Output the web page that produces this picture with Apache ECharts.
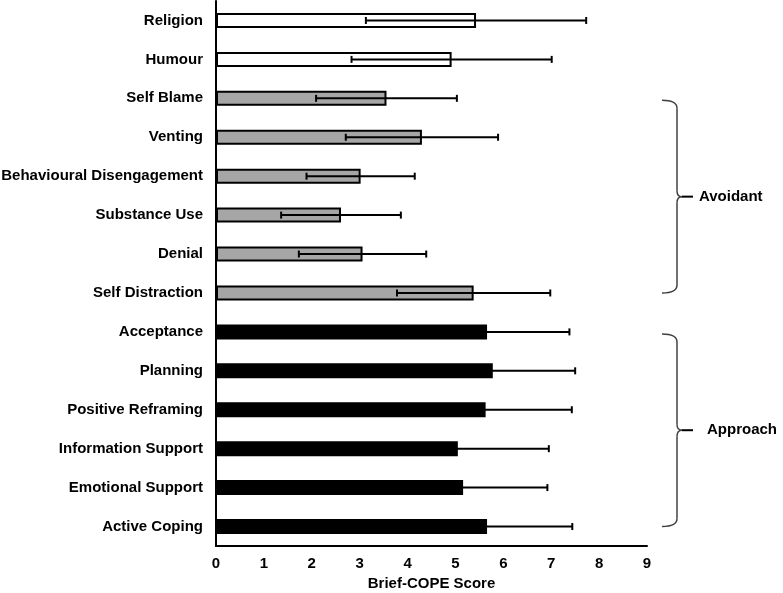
<!DOCTYPE html>
<html style="height: 100%">
<head>
    <meta charset="utf-8">
    <script src="https://cdn.jsdelivr.net/npm/echarts@6/dist/echarts.min.js"></script>
</head>
<body style="height: 100%; margin: 0; background: #fff">
<div id="cope_container" style="height: 593px; width: 783px"></div>
<script type="text/javascript">

    // Brief-COPE subscales, top to bottom
    var categories = ['Religion', 'Humour', 'Self Blame', 'Venting', 'Behavioural Disengagement',
        'Substance Use', 'Denial', 'Self Distraction', 'Acceptance', 'Planning',
        'Positive Reframing', 'Information Support', 'Emotional Support', 'Active Coping'];
    var means = [5.43, 4.92, 3.56, 4.30, 3.02, 2.61, 3.06, 5.38, 5.66, 5.78, 5.63, 5.05, 5.16, 5.66];
    var sds = [2.30, 2.09, 1.47, 1.59, 1.13, 1.25, 1.33, 1.60, 1.72, 1.72, 1.80, 1.90, 1.76, 1.78];
    var groups = ['other', 'other', 'avoidant', 'avoidant', 'avoidant', 'avoidant', 'avoidant', 'avoidant',
        'approach', 'approach', 'approach', 'approach', 'approach', 'approach'];
    var xTicks = [0, 1, 2, 3, 4, 5, 6, 7, 8, 9];

    var groupColor = {other: '#ffffff', avoidant: '#a6a6a6', approach: '#000000'};
    var font = '"Liberation Sans", Arial, sans-serif';

    var barData = means.map(function (m, i) {
        return {value: m, itemStyle: {color: groupColor[groups[i]]}};
    });
    var errData = means.map(function (m, i) {
        return [i, m - sds[i], m + sds[i]];
    });

    function renderErr(params, api) {
        var lo = api.coord([api.value(1), api.value(0)]);
        var hi = api.coord([api.value(2), api.value(0)]);
        var h = 3.5;
        var st = {stroke: '#000', lineWidth: 2};
        return {
            type: 'group',
            children: [
                {type: 'line', shape: {x1: lo[0], y1: lo[1], x2: hi[0], y2: hi[1]}, style: st},
                {type: 'line', shape: {x1: lo[0], y1: lo[1] - h, x2: lo[0], y2: lo[1] + h}, style: st},
                {type: 'line', shape: {x1: hi[0], y1: hi[1] - h, x2: hi[0], y2: hi[1] + h}, style: st}
            ]
        };
    }

    var option = {
        animation: false,
        grid: {left: 216, right: 136, top: 1, bottom: 47, outerBoundsMode: 'none', containLabel: false},
        xAxis: {
            type: 'value',
            min: xTicks[0],
            max: xTicks[xTicks.length - 1],
            interval: 1,
            name: 'Brief-COPE Score',
            nameLocation: 'middle',
            nameGap: 23,
            nameTextStyle: {color: '#000', fontWeight: 'bold', fontSize: 15, fontFamily: font},
            axisLine: {show: true, lineStyle: {color: '#000', width: 2}},
            axisTick: {show: false},
            splitLine: {show: false},
            axisLabel: {color: '#000', fontWeight: 'bold', fontSize: 15, fontFamily: font, margin: 10}
        },
        yAxis: {
            type: 'category',
            data: categories,
            inverse: true,
            axisLine: {show: true, lineStyle: {color: '#000', width: 2}},
            axisTick: {show: false},
            axisLabel: {color: '#000', fontWeight: 'bold', fontSize: 15, fontFamily: font, margin: 13}
        },
        series: [
            {
                type: 'bar',
                data: barData,
                barWidth: 15,
                itemStyle: {borderColor: '#000', borderWidth: 2},
                z: 2
            },
            {
                type: 'custom',
                renderItem: renderErr,
                data: errData,
                encode: {x: [1, 2], y: 0},
                z: 3
            }
        ]
    };

    var cope_container = document.getElementById('cope_container');
    var cope_chart = echarts.init(cope_container);
    cope_chart.setOption(option);

    // curly brackets grouping the subscales
    function brace(first, last, label, textX) {
        var y0 = cope_chart.convertToPixel({yAxisIndex: 0}, first) + 2;
        var y1 = cope_chart.convertToPixel({yAxisIndex: 0}, last);
        var ym = (y0 + y1) / 2;
        var x0 = 662, x1 = 677;
        var st = {fill: null, stroke: '#404040', lineWidth: 1.5};
        return [
            {type: 'bezierCurve', shape: {x1: x0, y1: y0, cpx1: x1, cpy1: y0, x2: x1, y2: y0 + 8}, style: st},
            {type: 'line', shape: {x1: x1, y1: y0 + 8, x2: x1, y2: ym - 6}, style: st},
            {type: 'bezierCurve', shape: {x1: x1, y1: ym - 6, cpx1: x1, cpy1: ym, x2: x1 + 5, y2: ym}, style: st},
            {type: 'bezierCurve', shape: {x1: x1 + 5, y1: ym, cpx1: x1, cpy1: ym, x2: x1, y2: ym + 6}, style: st},
            {type: 'line', shape: {x1: x1, y1: ym + 6, x2: x1, y2: y1 - 8}, style: st},
            {type: 'bezierCurve', shape: {x1: x1, y1: y1 - 8, cpx1: x1, cpy1: y1, x2: x0, y2: y1}, style: st},
            {type: 'line', shape: {x1: x1 + 5, y1: ym, x2: x1 + 16, y2: ym}, style: {stroke: '#000', lineWidth: 2}},
            {type: 'text', x: textX, y: ym, style: {text: label, fill: '#000', font: 'bold 15px ' + font, verticalAlign: 'middle'}}
        ];
    }

    cope_chart.setOption({
        graphic: brace('Self Blame', 'Self Distraction', 'Avoidant', 699)
            .concat(brace('Acceptance', 'Active Coping', 'Approach', 707))
    });
</script>
</body>
</html>
